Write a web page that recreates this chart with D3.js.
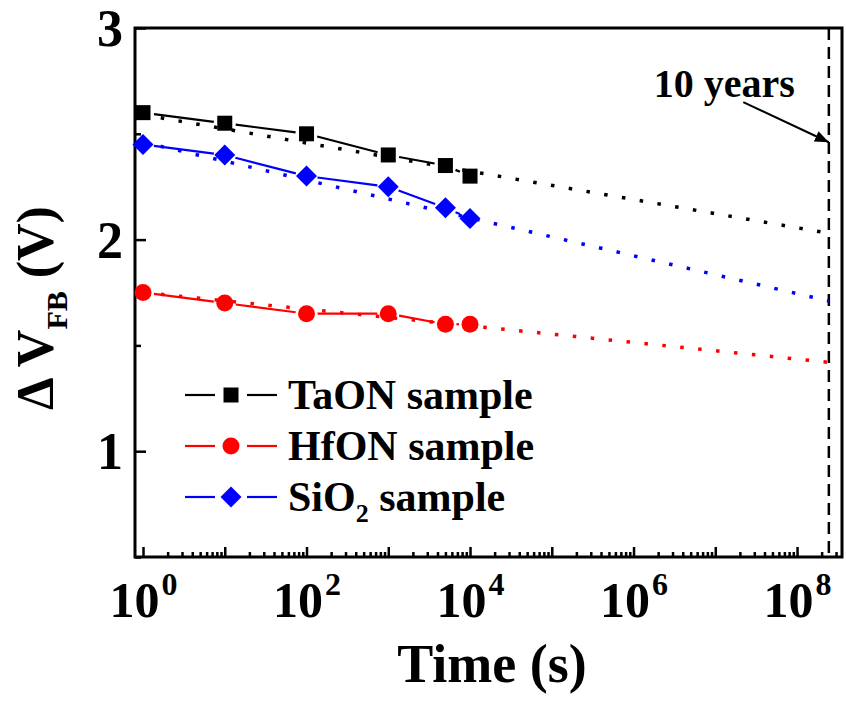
<!DOCTYPE html>
<html>
<head>
<meta charset="utf-8">
<script src="https://cdn.jsdelivr.net/npm/d3@7"></script>
<style>
body { margin: 0; background: #fff; }
svg, svg text, svg tspan { font-family: "Liberation Serif", "Times New Roman", serif !important; font-weight: bold; }
</style>
</head>
<body>
<div id="chart"></div>
<script>
// DATA
const times = [1, 10, 100, 1000, 5000, 10000];
const taon = [2.60, 2.55, 2.50, 2.40, 2.35, 2.30];
const hfon = [1.75, 1.70, 1.65, 1.65, 1.60, 1.60];
const sio2 = [2.45, 2.40, 2.30, 2.25, 2.15, 2.10];

// dotted extrapolation, read at 10^0 and at the 10 years line
const fitTimes = [1, 2.45e8];
const taonFit = [2.59, 2.03];
const hfonFit = [1.75, 1.42];
const sio2Fit = [2.46, 1.71];

const tenYears = 2.45e8;
const arrowFrom = [2.2e7, 2.65];
const arrowTo = [2.45e8, 2.46];

const xMajor = [1e0, 1e1, 1e2, 1e3, 1e4, 1e5, 1e6, 1e7, 1e8];
const xLabelExp = [0, 2, 4, 6, 8];
const yMajor = [1, 2, 3];
const yMinor = [0.5, 1.5, 2.5];

const series = [
	{ name: "TaON sample", values: taon, fit: taonFit, color: "#000000", shape: "square" },
	{ name: "HfON sample", values: hfon, fit: hfonFit, color: "#ff0000", shape: "circle" },
	{ name: "SiO2 sample", values: sio2, fit: sio2Fit, color: "#0000ff", shape: "diamond" }
];

const serif = "'Liberation Serif', 'Times New Roman', serif";

// MARGIN CONVENTIONS
const margin = { top: 28, right: 4, bottom: 147, left: 135 };
const outerWidth = 846;
const outerHeight = 704;
const width = outerWidth - margin.left - margin.right;
const height = outerHeight - margin.top - margin.bottom;

const svg = d3.select("#chart").append("svg")
	.attr("width", outerWidth)
	.attr("height", outerHeight);

const g = svg.append("g")
	.attr("transform", `translate(${margin.left}, ${margin.top})`);

const x = d3.scaleLog()
	.domain([Math.pow(10, -0.098), Math.pow(10, 8.55)])
	.range([0, width]);

const y = d3.scaleLinear()
	.domain([0.5, 3])
	.range([height, 0]);

// minor x ticks
const xMinor = [];
xMajor.forEach(d => { for (let k = 2; k <= 9; k++) if (d * k < x.domain()[1]) xMinor.push(d * k); });

g.append("g")
	.attr("transform", `translate(0, ${height})`)
	.call(d3.axisBottom(x).tickValues(xMinor).tickSize(-5).tickFormat(""))
	.call(a => a.select(".domain").remove())
	.selectAll("line").attr("stroke-width", 2.5);

const xAxis = g.append("g")
	.attr("transform", `translate(0, ${height})`)
	.call(d3.axisBottom(x).tickValues(xMajor).tickSize(-10).tickPadding(24).tickFormat(""));
xAxis.attr("font-family", null).style("font-family", serif);
xAxis.select(".domain").remove();
xAxis.selectAll("line").attr("stroke-width", 2.5);
xAxis.selectAll(".tick text")
	.style("font-family", serif)
	.style("font-weight", "bold")
	.attr("font-size", 50)
	.attr("dy", "0.71em")
	.each(function(d) {
		const e = Math.round(Math.log10(d));
		if (!xLabelExp.includes(e)) return;
		const t = d3.select(this);
		t.append("tspan").text("10");
		t.append("tspan").attr("font-size", 32).attr("dy", -22).attr("dx", 2).text(e);
	});

g.append("g")
	.call(d3.axisLeft(y).tickValues(yMinor).tickSize(-6).tickFormat(""))
	.call(a => a.select(".domain").remove())
	.selectAll("line").attr("stroke-width", 2.5);

const yAxis = g.append("g")
	.call(d3.axisLeft(y).tickValues(yMajor).tickSize(-11).tickPadding(12).tickFormat(d3.format("d")));
yAxis.attr("font-family", null).style("font-family", serif);
yAxis.select(".domain").remove();
yAxis.selectAll("line").attr("stroke-width", 2.5);
yAxis.selectAll(".tick text")
	.style("font-family", serif)
	.style("font-weight", "bold")
	.attr("font-size", 52)
	.attr("dy", "0.34em");

// frame
g.append("rect")
	.attr("width", width)
	.attr("height", height)
	.attr("fill", "none")
	.attr("stroke", "#000")
	.attr("stroke-width", 3);

// 10 years line
g.append("line")
	.attr("x1", x(tenYears)).attr("x2", x(tenYears))
	.attr("y1", 0).attr("y2", height)
	.attr("stroke", "#000")
	.attr("stroke-width", 2.5)
	.attr("stroke-dasharray", "12,7");

// dotted fits
series.forEach(s => {
	g.append("line")
		.attr("x1", x(fitTimes[0])).attr("y1", y(s.fit[0]))
		.attr("x2", x(fitTimes[1])).attr("y2", y(s.fit[1]))
		.attr("stroke", s.color)
		.attr("stroke-width", 3.5)
		.attr("stroke-dasharray", "3.5,14.5");
});

// solid segments with gaps round the symbols
const gap = 11;
series.forEach(s => {
	const pts = times.map((t, i) => [x(t), y(s.values[i])]);
	for (let i = 0; i < pts.length - 1; i++) {
		const [x0, y0] = pts[i], [x1, y1] = pts[i + 1];
		const len = Math.hypot(x1 - x0, y1 - y0);
		if (len <= 2 * gap) continue;
		const ux = (x1 - x0) / len, uy = (y1 - y0) / len;
		g.append("line")
			.attr("x1", x0 + ux * gap).attr("y1", y0 + uy * gap)
			.attr("x2", x1 - ux * gap).attr("y2", y1 - uy * gap)
			.attr("stroke", s.color)
			.attr("stroke-width", 2.2);
	}
});

const drawSymbol = (sel, shape, color, cx, cy) => {
	if (shape === "square") {
		sel.append("rect").attr("x", cx - 7.5).attr("y", cy - 7.5)
			.attr("width", 15).attr("height", 15).attr("fill", color);
	} else if (shape === "circle") {
		sel.append("circle").attr("cx", cx).attr("cy", cy).attr("r", 8.5).attr("fill", color);
	} else {
		const r = 10.5;
		sel.append("path")
			.attr("d", `M${cx},${cy - r}L${cx + r},${cy}L${cx},${cy + r}L${cx - r},${cy}Z`)
			.attr("fill", color);
	}
};

series.forEach(s => {
	times.forEach((t, i) => drawSymbol(g, s.shape, s.color, x(t), y(s.values[i])));
});

// arrow and label
svg.append("defs").append("marker")
	.attr("id", "head")
	.attr("viewBox", "0 0 10 10")
	.attr("refX", 10).attr("refY", 5)
	.attr("markerWidth", 7).attr("markerHeight", 7)
	.attr("markerUnits", "strokeWidth")
	.attr("orient", "auto")
	.append("path").attr("d", "M0,1L10,5L0,9Z").attr("fill", "#000");

g.append("line")
	.attr("x1", x(arrowFrom[0])).attr("y1", y(arrowFrom[1]))
	.attr("x2", x(arrowTo[0])).attr("y2", y(arrowTo[1]))
	.attr("stroke", "#000")
	.attr("stroke-width", 2)
	.attr("marker-end", "url(#head)");

g.append("text")
	.attr("x", x(tenYears) - 34)
	.attr("y", 69)
	.attr("text-anchor", "end")
	.attr("font-size", 40)
	.text("10 years");

// legend
const legend = svg.append("g").attr("transform", "translate(185, 395)");
series.forEach((s, i) => {
	const row = legend.append("g").attr("transform", `translate(0, ${i * 51})`);
	row.append("line").attr("x1", 0).attr("x2", 30).attr("stroke", s.color).attr("stroke-width", 2.2);
	row.append("line").attr("x1", 62).attr("x2", 92).attr("stroke", s.color).attr("stroke-width", 2.2);
	drawSymbol(row, s.shape, s.color, 46, 0);
	const t = row.append("text").attr("x", 103).attr("y", 14).attr("font-size", 42);
	if (s.name.startsWith("SiO2")) {
		t.append("tspan").text("SiO");
		t.append("tspan").attr("font-size", 26).attr("dy", 11).text("2");
		t.append("tspan").attr("dy", -11).text(" sample");
	} else {
		t.text(s.name);
	}
});

// axis titles
svg.append("text")
	.attr("x", 492)
	.attr("y", 682)
	.attr("text-anchor", "middle")
	.attr("font-size", 54)
	.text("Time (s)");

const yt = svg.append("text")
	.attr("transform", "translate(53, 308) rotate(-90)")
	.attr("text-anchor", "middle")
	.attr("font-size", 52);
yt.append("tspan").text("\u0394 V");
yt.append("tspan").attr("font-size", 30).attr("dy", 14).text("FB");
yt.append("tspan").attr("dy", -14).text(" (V)");
</script>
</body>
</html>
